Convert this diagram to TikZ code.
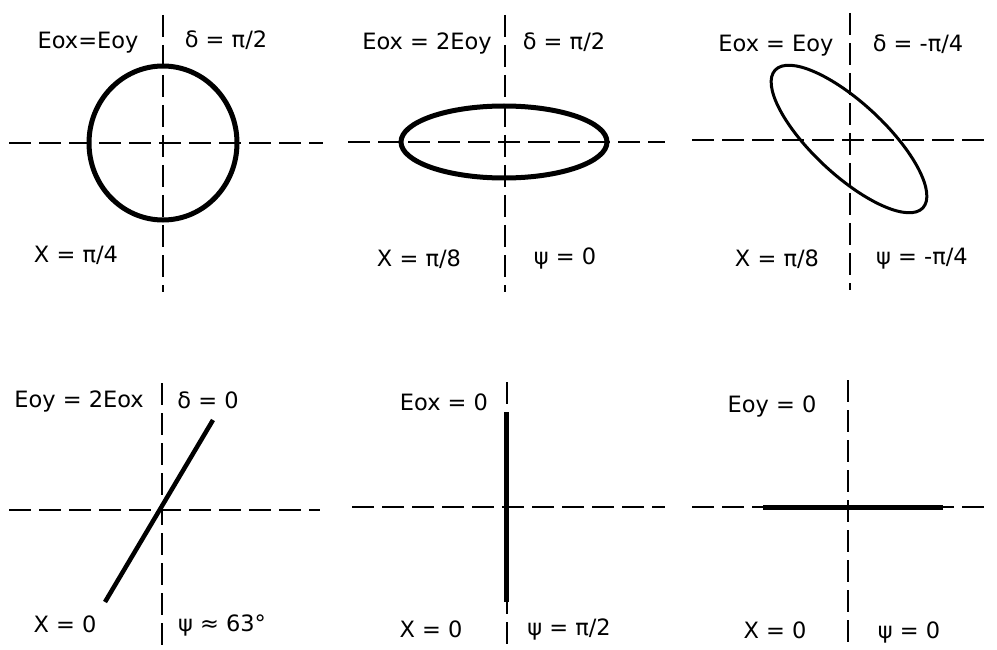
\documentclass[tikz,border=0pt]{standalone}
\usepackage{fontspec}
\setmainfont{DejaVu Sans}
\begin{document}
\begin{tikzpicture}[x=1pt,y=-1pt,
  axis/.style={line width=2pt,dash pattern=on 22pt off 8pt},
  curve/.style={line width=#1,black},
  lbl/.style={anchor=base,inner sep=0pt,font=\fontsize{22.5}{27}\selectfont}]
\useasboundingbox (0,0) rectangle (997,650);
% ---------- panel 1
\draw[axis] (163,15) -- (163,292);
\draw[axis] (9,143) -- (323,143);
\draw[curve=5pt] (163,143) ellipse [x radius=74, y radius=77];
\node[lbl] (a1) at (88,49) {Eox=Eoy};
\node[lbl] (b1) at (226,48) {δ = π/2};
\node[lbl] (c1) at (76,262) {Χ = π/4};
% ---------- panel 2
\draw[axis] (505,15) -- (505,292);
\draw[axis] (348,142) -- (665,142);
\draw[curve=5pt] (504,142) ellipse [x radius=103, y radius=36];
\node[lbl] (a2) at (427,50) {Eox = 2Eoy};
\node[lbl] (b2) at (564,50) {δ = π/2};
\node[lbl] (c2) at (419,266) {Χ = π/8};
\node[lbl] (d2) at (565,264) {ψ = 0};
% ---------- panel 3
\draw[axis] (850,13) -- (850,290);
\draw[axis] (692,140) -- (988,140);
\draw[curve=3pt,rotate around={-43:(849,139)}] (849,139) ellipse [x radius=101, y radius=36];
\node[lbl] (a3) at (776,52) {Eox = Eoy};
\node[lbl] (b3) at (918,52) {δ = -π/4};
\node[lbl] (c3) at (777,266) {Χ = π/8};
\node[lbl] (d3) at (922,264) {ψ = -π/4};
% ---------- panel 4
\draw[axis] (162,383) -- (162,650);
\draw[axis] (9,510) -- (320,510);
\coordinate (l4a) at (105,602);
\coordinate (l4b) at (213,420);
\draw[curve=4.5pt] (l4a) -- (l4b);
\node[lbl] (a4) at (79,407) {Eoy = 2Eox};
\node[lbl] (b4) at (208,408) {δ = 0};
\node[lbl] (c4) at (65,632) {Χ = 0};
\node[lbl] (d4) at (222,631) {ψ ≈ 63°};
% ---------- panel 5
\draw[axis] (507,382) -- (507,650);
\draw[axis] (352,507) -- (665,507);
\coordinate (l5a) at (506,412);
\coordinate (l5b) at (506,602);
\draw[curve=5pt] (l5a) -- (l5b);
\node[lbl] (a5) at (444,410) {Eox = 0};
\node[lbl] (c5) at (431,637) {Χ = 0};
\node[lbl] (d5) at (569,635) {ψ = π/2};
% ---------- panel 6
\draw[axis] (848,380) -- (848,650);
\draw[axis] (692,507) -- (988,507);
\coordinate (l6a) at (763,507);
\coordinate (l6b) at (943,507);
\draw[curve=5pt] (l6a) -- (l6b);
\node[lbl] (a6) at (772,412) {Eoy = 0};
\node[lbl] (c6) at (775,638) {Χ = 0};
\node[lbl] (d6) at (909,638) {ψ = 0};
\end{tikzpicture}
\end{document}
